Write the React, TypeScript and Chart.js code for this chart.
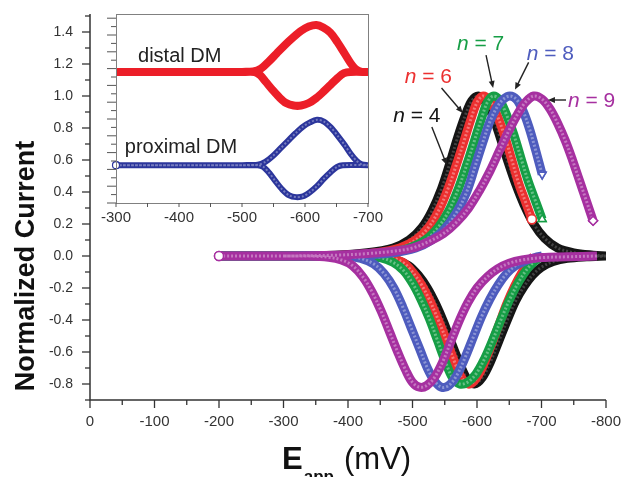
import React, { useEffect, useRef } from "react";
import { Chart, registerables } from "chart.js";
Chart.register(...registerables);

const FONT = "'Liberation Sans', Arial, Helvetica, sans-serif";

// ---- axis tick labels ----
const xTickValues = [0, -100, -200, -300, -400, -500, -600, -700, -800];
const yTickValues = [-0.8, -0.6, -0.4, -0.2, 0.0, 0.2, 0.4, 0.6, 0.8, 1.0, 1.2, 1.4];
const insetXTickValues = [-300, -400, -500, -600, -700];

// ---- main chart series (E in mV, normalized current) ----
// n = 4 (black)
const n4UpperE = [-200, -300, -380, -430, -470, -495, -515, -530, -545, -558, -570, -582, -592, -602, -612, -624, -636, -648, -660, -673, -688, -705, -725, -750, -780, -800];
const n4UpperI = [0, 0, 0.005, 0.02, 0.05, 0.1, 0.18, 0.28, 0.42, 0.58, 0.74, 0.88, 0.97, 1.0, 0.97, 0.88, 0.74, 0.59, 0.45, 0.32, 0.2, 0.11, 0.05, 0.02, 0.005, 0];
const n4LowerE = [-800, -770, -740, -718, -700, -686, -673, -660, -647, -634, -621, -608, -596, -585, -574, -562, -549, -536, -523, -509, -494, -475, -450, -410, -300];
const n4LowerI = [0, -0.005, -0.015, -0.035, -0.07, -0.12, -0.19, -0.28, -0.4, -0.53, -0.66, -0.76, -0.8, -0.77, -0.68, -0.56, -0.42, -0.3, -0.2, -0.12, -0.06, -0.025, -0.008, 0, 0];
// n = 6 (red)
const n6UpperE = [-200, -300, -400, -445, -480, -505, -525, -540, -555, -568, -580, -591, -600, -609, -618, -630, -642, -654, -665, -676, -685];
const n6UpperI = [0, 0, 0.005, 0.02, 0.05, 0.1, 0.18, 0.28, 0.42, 0.57, 0.72, 0.86, 0.96, 1.0, 0.98, 0.89, 0.76, 0.6, 0.45, 0.33, 0.23];
const n6LowerE = [-688, -680, -670, -658, -646, -634, -621, -608, -596, -586, -576, -565, -553, -540, -527, -514, -500, -485, -465, -430, -300];
const n6LowerI = [0, -0.04, -0.1, -0.19, -0.3, -0.43, -0.57, -0.7, -0.78, -0.8, -0.76, -0.66, -0.53, -0.4, -0.28, -0.18, -0.1, -0.04, -0.01, 0, 0];
// n = 7 (green)
const n7UpperE = [-200, -300, -410, -460, -495, -520, -540, -556, -571, -584, -596, -607, -616, -625, -634, -645, -657, -669, -680, -691, -701];
const n7UpperI = [0, 0, 0.005, 0.02, 0.05, 0.1, 0.18, 0.28, 0.42, 0.57, 0.72, 0.86, 0.96, 1.0, 0.98, 0.89, 0.76, 0.6, 0.46, 0.34, 0.23];
const n7LowerE = [-701, -690, -678, -665, -652, -639, -626, -612, -598, -585, -573, -562, -551, -539, -526, -513, -500, -486, -470, -450, -420, -300];
const n7LowerI = [0, -0.03, -0.08, -0.16, -0.26, -0.38, -0.51, -0.64, -0.74, -0.79, -0.8, -0.76, -0.66, -0.53, -0.39, -0.27, -0.17, -0.09, -0.04, -0.01, 0, 0];
// n = 8 (blue)
const n8UpperE = [-200, -300, -420, -470, -505, -530, -550, -568, -584, -597, -609, -620, -631, -641, -651, -661, -671, -681, -691, -701];
const n8UpperI = [0, 0, 0.005, 0.02, 0.05, 0.1, 0.17, 0.27, 0.4, 0.56, 0.71, 0.84, 0.93, 0.98, 1.0, 0.98, 0.91, 0.8, 0.66, 0.51];
const n8LowerE = [-701, -690, -675, -660, -646, -633, -620, -607, -594, -581, -568, -556, -545, -534, -523, -511, -498, -485, -471, -456, -440, -420, -395, -300];
const n8LowerI = [0, -0.01, -0.03, -0.06, -0.11, -0.18, -0.27, -0.38, -0.51, -0.64, -0.75, -0.81, -0.82, -0.78, -0.7, -0.58, -0.45, -0.32, -0.2, -0.11, -0.05, -0.015, 0, 0];
// n = 9 (purple)
const n9UpperE = [-200, -300, -380, -430, -470, -500, -525, -548, -568, -587, -604, -620, -635, -649, -662, -675, -688, -701, -713, -725, -737, -748, -759, -770, -780];
const n9UpperI = [0, 0, 0.005, 0.015, 0.03, 0.05, 0.09, 0.14, 0.21, 0.3, 0.41, 0.53, 0.66, 0.78, 0.88, 0.96, 1.0, 0.98, 0.92, 0.83, 0.72, 0.6, 0.47, 0.34, 0.22];
const n9LowerE = [-786, -740, -700, -670, -650, -632, -616, -600, -586, -573, -560, -547, -534, -522, -511, -500, -489, -477, -465, -452, -438, -423, -407, -390, -370, -340, -300];
const n9LowerI = [0, -0.005, -0.01, -0.025, -0.045, -0.08, -0.13, -0.2, -0.29, -0.4, -0.53, -0.66, -0.76, -0.81, -0.82, -0.79, -0.71, -0.6, -0.48, -0.35, -0.23, -0.13, -0.06, -0.025, -0.008, 0, 0];

// ---- inset series ----
const distalFwdE = [-300, -400, -500, -518, -530, -542, -555, -568, -581, -594, -606, -618, -629, -640, -651, -662, -672, -681, -690, -700];
const distalFwdI = [1.56, 1.56, 1.56, 1.565, 1.6, 1.68, 1.78, 1.88, 1.97, 2.05, 2.1, 2.12, 2.09, 2.03, 1.92, 1.79, 1.67, 1.59, 1.56, 1.56];
const distalRevE = [-700, -672, -662, -652, -641, -630, -618, -606, -594, -582, -570, -559, -548, -538, -529, -520, -500, -300];
const distalRevI = [1.56, 1.56, 1.545, 1.49, 1.41, 1.33, 1.25, 1.19, 1.16, 1.16, 1.19, 1.26, 1.35, 1.44, 1.52, 1.56, 1.56, 1.56];
const proximalFwdE = [-300, -400, -500, -525, -537, -549, -561, -573, -585, -597, -608, -619, -630, -641, -652, -663, -673, -682, -690, -700];
const proximalFwdI = [0.45, 0.45, 0.45, 0.455, 0.49, 0.56, 0.65, 0.74, 0.83, 0.91, 0.96, 0.99, 0.97, 0.9, 0.8, 0.69, 0.58, 0.5, 0.46, 0.45];
const proximalRevE = [-700, -660, -651, -641, -630, -619, -608, -597, -586, -575, -564, -553, -543, -534, -525, -500, -300];
const proximalRevI = [0.45, 0.45, 0.43, 0.37, 0.29, 0.2, 0.13, 0.08, 0.07, 0.09, 0.16, 0.26, 0.36, 0.43, 0.45, 0.45, 0.45];

const COLORS = {
  n4: "#151515",
  n6: "rgb(236,48,48)",
  n7: "rgb(22,158,70)",
  n8: "rgb(78,92,190)",
  n9: "rgb(166,48,160)",
  distal: "rgb(236,30,40)",
  proximal: "rgb(44,54,156)",
};

const annotations = [
  { text: "4", color: COLORS.n4, tx: -470, ty: 0.84, ax1: -530, ay1: 0.806, ax2: -553, ay2: 0.57 },
  { text: "6", color: COLORS.n6, tx: -488, ty: 1.08, ax1: -545, ay1: 1.05, ax2: -578, ay2: 0.894 },
  { text: "7", color: COLORS.n7, tx: -569, ty: 1.29, ax1: -614, ay1: 1.256, ax2: -625, ay2: 1.05 },
  { text: "8", color: COLORS.n8, tx: -677, ty: 1.225, ax1: -680, ay1: 1.21, ax2: -659, ay2: 1.04 },
  { text: "9", color: COLORS.n9, tx: -741, ty: 0.93, ax1: -738, ay1: 0.975, ax2: -710, ay2: 0.975 },
];

type P = { x: number; y: number | null };
function pts(E: number[], I: number[]): P[] {
  return E.map((e, i) => ({ x: e, y: I[i] }));
}
function loop(uE: number[], uI: number[], lE: number[], lI: number[]): P[] {
  return [...pts(uE, uI), { x: lE[0], y: null }, ...pts(lE, lI)];
}

function mainDataset(label: string, color: string, data: P[], order: number, markers: number[], style: string, rotation = 0, stripe = "rgba(255,255,255,0.35)") {
  return {
    label,
    data,
    borderColor: color,
    backgroundColor: color,
    borderWidth: 9,
    tension: 0.35,
    spanGaps: false,
    fill: false,
    order,
    innerStripe: stripe,
    borderCapStyle: "butt" as const,
    borderJoinStyle: "round" as const,
    pointRadius: (c: any) => (markers.includes(c.dataIndex) ? 4.5 : 0),
    pointHoverRadius: 0,
    pointStyle: (c: any) => (c.dataIndex === 0 ? "circle" : style),
    pointRotation: rotation,
    pointBackgroundColor: "#fff",
    pointBorderColor: color,
    pointBorderWidth: 1.5,
  };
}

// lighter dashed stripe inside each thick band, imitating the overlapping hollow markers
const bandTexture = {
  id: "bandTexture",
  afterDatasetDraw(chart: any, args: any) {
    const ds = chart.data.datasets[args.index];
    const el = args.meta.dataset;
    if (!ds || !ds.innerStripe || !el) return;
    const orig = el.options;
    el.options = { ...orig, borderColor: ds.innerStripe, borderWidth: ds.stripeWidth || 3, borderDash: [2, 2], borderDashOffset: 0 };
    el.draw(chart.ctx, chart.chartArea);
    el.options = orig;
    args.meta.data.forEach((p: any) => p.draw(chart.ctx, chart.chartArea));
  },
};

function zeroScalePadding(s: any) {
  s.paddingLeft = 0;
  s.paddingRight = 0;
  s.paddingTop = 0;
  s.paddingBottom = 0;
}

function drawArrow(ctx: CanvasRenderingContext2D, x1: number, y1: number, x2: number, y2: number) {
  const ang = Math.atan2(y2 - y1, x2 - x1);
  const hl = 7;
  const hw = 3;
  ctx.beginPath();
  ctx.moveTo(x1, y1);
  ctx.lineTo(x2 - Math.cos(ang) * hl * 0.8, y2 - Math.sin(ang) * hl * 0.8);
  ctx.stroke();
  ctx.beginPath();
  ctx.moveTo(x2, y2);
  ctx.lineTo(x2 - Math.cos(ang) * hl - Math.sin(ang) * hw, y2 - Math.sin(ang) * hl + Math.cos(ang) * hw);
  ctx.lineTo(x2 - Math.cos(ang) * hl + Math.sin(ang) * hw, y2 - Math.sin(ang) * hl - Math.cos(ang) * hw);
  ctx.closePath();
  ctx.fill();
}

const mainDecor = {
  id: "mainDecor",
  afterDraw(chart: any) {
    const { ctx, chartArea, scales } = chart;
    const x = scales.x;
    const y = scales.y;
    ctx.save();
    ctx.strokeStyle = "#333";
    ctx.lineWidth = 1.5;
    ctx.beginPath();
    ctx.moveTo(chartArea.left, chartArea.top - 2);
    ctx.lineTo(chartArea.left, chartArea.bottom);
    ctx.lineTo(chartArea.right, chartArea.bottom);
    ctx.stroke();
    ctx.lineWidth = 1.3;
    for (let k = -9; k <= 15; k++) {
      const py = y.getPixelForValue(k / 10);
      const len = k % 2 === 0 ? 8 : 5;
      ctx.beginPath();
      ctx.moveTo(chartArea.left - len, py);
      ctx.lineTo(chartArea.left, py);
      ctx.stroke();
    }
    for (let k = 0; k <= 16; k++) {
      const px = x.getPixelForValue(-50 * k);
      const len = k % 2 === 0 ? 8 : 5;
      ctx.beginPath();
      ctx.moveTo(px, chartArea.bottom);
      ctx.lineTo(px, chartArea.bottom + len);
      ctx.stroke();
    }

    // annotations
    for (const a of annotations) {
      const tx = x.getPixelForValue(a.tx);
      const ty = y.getPixelForValue(a.ty);
      ctx.fillStyle = a.color;
      ctx.textBaseline = "alphabetic";
      ctx.textAlign = "left";
      ctx.font = `italic 21px ${FONT}`;
      ctx.fillText("n", tx, ty);
      const w = ctx.measureText("n").width;
      ctx.font = `21px ${FONT}`;
      ctx.fillText(" = " + a.text, tx + w, ty);
      ctx.strokeStyle = "#222";
      ctx.fillStyle = "#222";
      ctx.lineWidth = 1.4;
      drawArrow(ctx, x.getPixelForValue(a.ax1), y.getPixelForValue(a.ay1), x.getPixelForValue(a.ax2), y.getPixelForValue(a.ay2));
    }

    // y title
    ctx.fillStyle = "#111";
    ctx.save();
    ctx.translate(34, 266);
    ctx.rotate(-Math.PI / 2);
    ctx.font = `bold 27px ${FONT}`;
    ctx.textAlign = "center";
    ctx.textBaseline = "alphabetic";
    ctx.fillText("Normalized Current", 0, 0);
    ctx.restore();

    // x title
    ctx.textAlign = "left";
    ctx.textBaseline = "alphabetic";
    ctx.font = `bold 31px ${FONT}`;
    ctx.fillText("E", 282, 469);
    const ew = ctx.measureText("E").width;
    ctx.font = `bold 17px ${FONT}`;
    ctx.fillText("app", 282 + ew + 1, 482);
    ctx.font = `31px ${FONT}`;
    ctx.fillText("(mV)", 344, 469);
    ctx.restore();
  },
};

const insetDecor = {
  id: "insetDecor",
  afterDraw(chart: any) {
    const { ctx, chartArea, scales } = chart;
    const x = scales.x;
    const y = scales.y;
    ctx.save();
    ctx.strokeStyle = "#808080";
    ctx.lineWidth = 1;
    ctx.strokeRect(chartArea.left + 0.5, chartArea.top + 0.5, chartArea.right - chartArea.left, chartArea.bottom - chartArea.top);
    ctx.strokeStyle = "#555";
    for (let k = 0; k <= 22; k++) {
      const py = y.getPixelForValue(k / 10);
      const len = k % 2 === 0 ? 9 : 5;
      ctx.beginPath();
      ctx.moveTo(chartArea.left - len, py);
      ctx.lineTo(chartArea.left, py);
      ctx.stroke();
    }
    for (let k = 0; k <= 8; k++) {
      const px = x.getPixelForValue(-300 - 50 * k);
      ctx.beginPath();
      ctx.moveTo(px, chartArea.bottom);
      ctx.lineTo(px, chartArea.bottom + 4);
      ctx.stroke();
    }
    ctx.fillStyle = "#222";
    ctx.font = `20px ${FONT}`;
    ctx.textAlign = "left";
    ctx.textBaseline = "alphabetic";
    ctx.fillText("distal DM", x.getPixelForValue(-335), y.getPixelForValue(1.68));
    ctx.fillText("proximal DM", x.getPixelForValue(-314), y.getPixelForValue(0.6));
    ctx.restore();
  },
};

export default function App() {
  const mainRef = useRef<HTMLCanvasElement>(null);
  const insetRef = useRef<HTMLCanvasElement>(null);

  useEffect(() => {
    document.body.style.margin = "0";
    const main = new Chart(mainRef.current as HTMLCanvasElement, {
      type: "line",
      data: {
        datasets: [
          mainDataset("n = 9", COLORS.n9, loop(n9UpperE, n9UpperI, n9LowerE, n9LowerI), 1, [0, n9UpperE.length - 1], "rectRot"),
          mainDataset("n = 8", COLORS.n8, loop(n8UpperE, n8UpperI, n8LowerE, n8LowerI), 2, [n8UpperE.length - 1], "triangle", 180),
          mainDataset("n = 7", COLORS.n7, loop(n7UpperE, n7UpperI, n7LowerE, n7LowerI), 3, [n7UpperE.length - 1], "triangle"),
          mainDataset("n = 6", COLORS.n6, loop(n6UpperE, n6UpperI, n6LowerE, n6LowerI), 4, [n6UpperE.length - 1], "circle"),
          mainDataset("n = 4", COLORS.n4, loop(n4UpperE, n4UpperI, n4LowerE, n4LowerI), 5, [], "circle", 0, "rgba(255,255,255,0.2)"),
        ] as any,
      },
      options: {
        animation: false,
        responsive: false,
        events: [],
        layout: { padding: { top: 16, right: 18, left: 0, bottom: 0 } },
        plugins: { legend: { display: false }, tooltip: { enabled: false } },
        scales: {
          x: {
            type: "linear",
            reverse: true,
            min: -800,
            max: 0,
            grid: { display: false, drawTicks: false },
            border: { display: false },
            afterBuildTicks: (s: any) => {
              s.ticks = xTickValues.map((v) => ({ value: v }));
            },
            afterFit: (s: any) => {
              s.height = 77;
              zeroScalePadding(s);
            },
            ticks: {
              font: { family: FONT, size: 15 },
              color: "#333",
              padding: 13,
              maxRotation: 0,
              autoSkip: false,
              callback: (v: any) => String(Number(v) === 0 ? 0 : v),
            },
          },
          y: {
            type: "linear",
            min: -0.9,
            max: 1.5,
            grid: { display: false, drawTicks: false },
            border: { display: false },
            afterBuildTicks: (s: any) => {
              s.ticks = yTickValues.map((v) => ({ value: v }));
            },
            afterFit: (s: any) => {
              s.width = 90;
              zeroScalePadding(s);
            },
            ticks: {
              font: { family: FONT, size: 14 },
              color: "#333",
              padding: 17,
              autoSkip: false,
              callback: (v: any) => Number(v).toFixed(1),
            },
          },
        },
      },
      plugins: [bandTexture, mainDecor],
    });

    const inset = new Chart(insetRef.current as HTMLCanvasElement, {
      type: "line",
      data: {
        datasets: [
          {
            label: "distal DM",
            data: [...pts(distalFwdE, distalFwdI), ...pts(distalRevE, distalRevI)],
            borderColor: COLORS.distal,
            borderWidth: 8,
            tension: 0.3,
            pointRadius: 0,
            fill: false,
            clip: 0,
          },
          {
            label: "proximal DM",
            data: [...pts(proximalFwdE, proximalFwdI), ...pts(proximalRevE, proximalRevI)],
            borderColor: COLORS.proximal,
            borderWidth: 6,
            tension: 0.3,
            innerStripe: "rgba(255,255,255,0.35)",
            stripeWidth: 2,
            pointRadius: (c: any) => (c.dataIndex === 0 ? 3.5 : 0),
            pointBackgroundColor: "#fff",
            pointBorderColor: COLORS.proximal,
            pointBorderWidth: 1.2,
            fill: false,
          },
        ] as any,
      },
      options: {
        animation: false,
        responsive: false,
        events: [],
        layout: { padding: { top: 14, right: 22, left: 26, bottom: 0 } },
        plugins: { legend: { display: false }, tooltip: { enabled: false } },
        scales: {
          x: {
            type: "linear",
            reverse: true,
            min: -700,
            max: -300,
            grid: { display: false, drawTicks: false },
            border: { display: false },
            afterBuildTicks: (s: any) => {
              s.ticks = insetXTickValues.map((v) => ({ value: v }));
            },
            afterFit: (s: any) => {
              s.height = 32;
              zeroScalePadding(s);
            },
            ticks: {
              font: { family: FONT, size: 15 },
              color: "#333",
              padding: 6,
              maxRotation: 0,
              autoSkip: false,
            },
          },
          y: { type: "linear", min: 0, max: 2.25, display: false },
        },
      },
      plugins: [bandTexture, insetDecor],
    });

    return () => {
      main.destroy();
      inset.destroy();
    };
  }, []);

  return (
    <div style={{ position: "fixed", left: 0, top: 0, width: 624, height: 477, background: "#fff", overflow: "hidden" }}>
      <canvas ref={mainRef} width={624} height={477} style={{ position: "absolute", left: 0, top: 0, width: 624, height: 477 }} />
      <canvas ref={insetRef} width={300} height={235} style={{ position: "absolute", left: 90, top: 0, width: 300, height: 235 }} />
    </div>
  );
}
